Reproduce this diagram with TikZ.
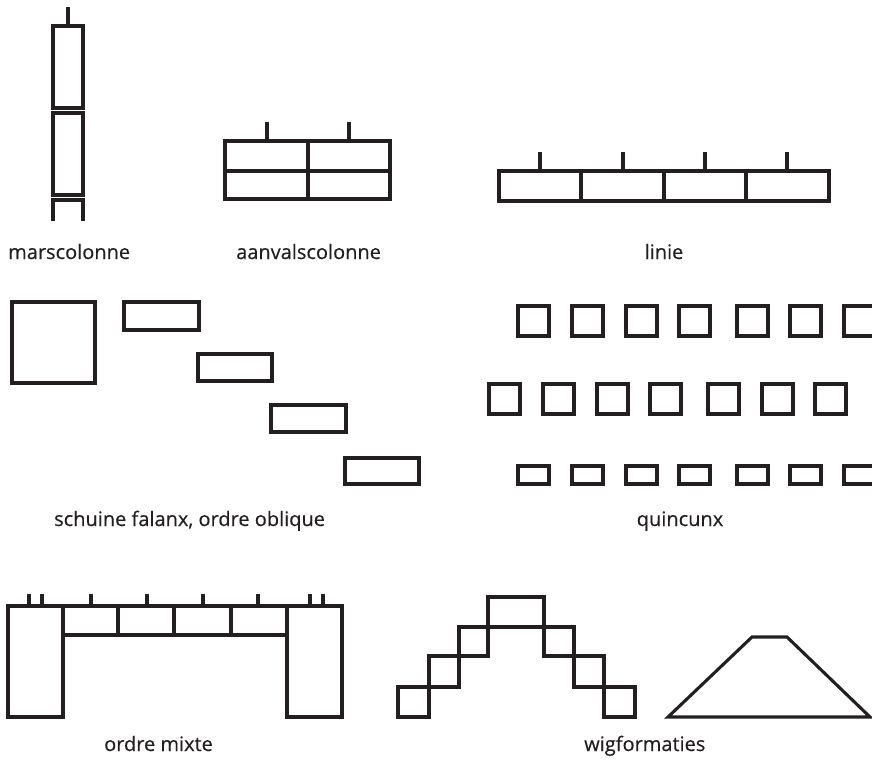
\documentclass[tikz,border=0pt]{standalone}
\usepackage{fontspec}
\setmainfont[FakeBold=0.4]{Open Sans}
\definecolor{ink}{HTML}{231F20}
\begin{document}
\begin{tikzpicture}[x=1pt,y=-1pt,
  ln/.style={draw=ink,line width=3.1pt,line join=miter},
  lbl/.style={text=ink,font=\fontsize{20}{24}\selectfont,inner sep=0pt}]
\useasboundingbox (0,0) rectangle (872,760);
\begin{scope}
\clip (0,0) rectangle (872,760);
% marscolonne
\draw[ln] (68,7) -- (68,26);
\draw[ln] (53,26) rectangle (83,108);
\draw[ln] (53,113) rectangle (83,195);
\draw[ln] (53,221) -- (53,200) -- (83,200) -- (83,221);
% aanvalscolonne
\draw[ln] (267,122) -- (267,141);
\draw[ln] (349,122) -- (349,141);
\draw[ln] (225,141) rectangle (390,199);
\draw[ln] (225,171) -- (390,171);
\draw[ln] (308,141) -- (308,199);
% linie
\draw[ln] (499,171) rectangle (829,201);
\foreach \x in {581,664,746} \draw[ln] (\x,171) -- (\x,201);
\foreach \x in {540,623,705,787} \draw[ln] (\x,152) -- (\x,171);
% schuine falanx
\draw[ln] (12,302) rectangle (95,383);
\draw[ln] (124,302) rectangle (199,330);
\draw[ln] (198,354) rectangle (272,381);
\draw[ln] (271,405) rectangle (346,432);
\draw[ln] (345,458) rectangle (419,484);
% quincunx
\foreach \x in {518,572,626,679,737,790,844} {
  \draw[ln] (\x,306) rectangle (\x+31,336);
  \draw[ln] (\x,466) rectangle (\x+31,484);
}
\foreach \x in {489,543,597,650,708,762,815} \draw[ln] (\x,384) rectangle (\x+31,414);
% ordre mixte
\draw[ln] (8,606) rectangle (63,717);
\draw[ln] (287,606) rectangle (342,717);
\draw[ln] (63,606) rectangle (287,635);
\foreach \x in {118,174,231} \draw[ln] (\x,606) -- (\x,635);
\foreach \x in {29,42,91,147,203,258,310,323} \draw[ln] (\x,594) -- (\x,606);
% wigformaties: staircase
\draw[ln] (488,597) rectangle (544,627);
\draw[ln] (459,627) rectangle (488,656);
\draw[ln] (429,656) rectangle (459,687);
\draw[ln] (398,687) rectangle (429,717);
\draw[ln] (544,627) rectangle (574,656);
\draw[ln] (574,656) rectangle (604,687);
\draw[ln] (604,687) rectangle (635,717);
\draw[ln] (488,627) -- (544,627);
% trapezoid
\draw[ln] (668,717) -- (752,637) -- (787,637) -- (870,717) -- cycle;
\end{scope}
% labels
\node[lbl,anchor=base west] (l1) at (8,259) {marscolonne};
\node[lbl,anchor=base west] (l2) at (236,259) {aanvalscolonne};
\node[lbl,anchor=base] (l3) at (664,259) {linie};
\node[lbl,anchor=base west] (l4) at (54,526) {schuine falanx, ordre oblique};
\node[lbl,anchor=base] (l5) at (680,526) {quincunx};
\node[lbl,anchor=base west] (l6) at (104,751) {ordre mixte};
\node[lbl,anchor=base west] (l7) at (584,751) {wigformaties};
\end{tikzpicture}
\end{document}
